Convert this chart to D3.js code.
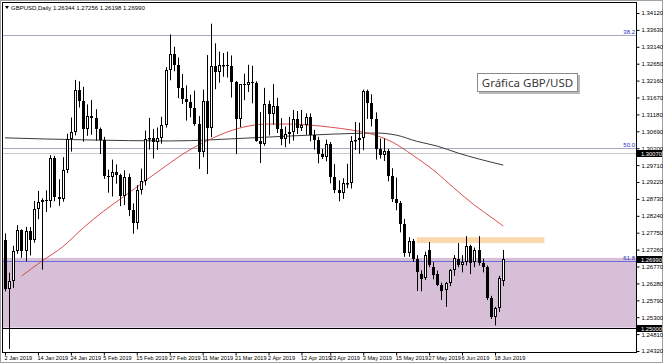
<!DOCTYPE html>
<html>
<head>
<meta charset="utf-8">
<script src="https://cdnjs.cloudflare.com/ajax/libs/d3/7.8.5/d3.min.js"></script>
<style>
  body { margin: 0; background: #fff; }
  svg { display: block; }
  text { font-family: "Liberation Sans", Arial, sans-serif; }
</style>
</head>
<body>
<svg width="663" height="363"></svg>
<script>
// Daily bars, GBPUSD, 2 Jan 2019 .. 20 Jun 2019 (one entry per bar)
var opens = [
  1.2754,1.2613,1.2634,1.2723,1.2784,1.2722,1.2780,1.2755,1.2843,1.2865,
  1.2870,1.2866,1.2993,1.2879,1.2872,1.2956,1.3047,1.3067,1.3190,1.3156,
  1.3075,1.3112,1.3107,1.3075,1.3044,1.2940,1.2936,1.2950,1.2941,1.2881,
  1.2937,1.2842,1.2802,1.2898,1.2925,1.3048,1.3051,1.3038,1.3049,1.3086,
  1.3247,1.3292,1.3261,1.3195,1.3162,1.3154,1.3138,1.3091,1.3008,1.3156,
  1.3078,1.3259,1.3240,1.3261,1.3262,1.3258,1.3212,1.3104,1.3205,1.3203,
  1.3211,1.3209,1.3041,1.3032,1.3147,1.3118,1.3143,1.3077,1.3047,1.3061,
  1.3068,1.3104,1.3078,1.3086,1.3111,1.3057,1.3044,1.3004,1.2995,1.3031,
  1.2937,1.2898,1.2891,1.2918,1.2920,1.3040,1.3045,1.3050,1.3185,1.3150,
  1.3104,1.3019,1.3000,1.3011,1.2940,1.2872,1.2860,1.2800,1.2716,1.2750,
  1.2700,1.2655,1.2645,1.2725,1.2676,1.2655,1.2623,1.2609,1.2629,1.2667,
  1.2700,1.2680,1.2690,1.2736,1.2690,1.2725,1.2687,1.2676,1.2586,1.2531,
  1.2557,1.2634
];
var highs = [
  1.2773,1.2659,1.2737,1.2797,1.2785,1.2792,1.2791,1.2867,1.2896,1.2875,
  1.2898,1.3000,1.2998,1.2930,1.2994,1.3062,1.3109,1.3218,1.3214,1.3198,
  1.3147,1.3160,1.3133,1.3080,1.3053,1.2958,1.2987,1.2973,1.2946,1.2956,
  1.2946,1.2860,1.2913,1.2961,1.3071,1.3108,1.3076,1.3080,1.3111,1.3255,
  1.3350,1.3314,1.3283,1.3235,1.3202,1.3175,1.3187,1.3113,1.3190,1.3290,
  1.3381,1.3324,1.3300,1.3296,1.3300,1.3289,1.3215,1.3206,1.3236,1.3262,
  1.3259,1.3214,1.3125,1.3195,1.3158,1.3206,1.3166,1.3107,1.3083,1.3111,
  1.3131,1.3128,1.3131,1.3121,1.3121,1.3073,1.3053,1.3018,1.3045,1.3038,
  1.2974,1.2927,1.2933,1.2975,1.3055,1.3096,1.3094,1.3190,1.3190,1.3176,
  1.3124,1.3048,1.3048,1.3018,1.2962,1.2935,1.2867,1.2815,1.2762,1.2757,
  1.2710,1.2666,1.2720,1.2748,1.2690,1.2665,1.2630,1.2632,1.2670,1.2710,
  1.2745,1.2710,1.2765,1.2740,1.2732,1.2765,1.2700,1.2680,1.2592,1.2560,
  1.2650,1.2725
];
var lows = [
  1.2605,1.2438,1.2615,1.2714,1.2702,1.2692,1.2709,1.2746,1.2814,1.2668,
  1.2835,1.2848,1.2866,1.2853,1.2865,1.2948,1.3010,1.3057,1.3138,1.3039,
  1.3056,1.3059,1.3042,1.3003,1.2931,1.2891,1.2880,1.2917,1.2852,1.2855,
  1.2823,1.2772,1.2785,1.2886,1.2912,1.3016,1.2990,1.3015,1.3033,1.3080,
  1.3217,1.3243,1.3165,1.3148,1.3100,1.3110,1.3085,1.2960,1.2994,1.2945,
  1.3052,1.3191,1.3210,1.3227,1.3225,1.3167,1.3003,1.3081,1.3159,1.3183,
  1.3150,1.3039,1.2977,1.3027,1.3057,1.3088,1.3064,1.3029,1.3023,1.3033,
  1.3042,1.3061,1.3070,1.3059,1.3040,1.3016,1.2976,1.2989,1.2982,1.2918,
  1.2890,1.2866,1.2873,1.2904,1.2903,1.3015,1.3004,1.3014,1.3105,1.3083,
  1.2987,1.2990,1.2983,1.2924,1.2864,1.2840,1.2776,1.2705,1.2705,1.2690,
  1.2606,1.2605,1.2638,1.2675,1.2640,1.2620,1.2580,1.2560,1.2620,1.2650,
  1.2675,1.2660,1.2680,1.2655,1.2675,1.2680,1.2660,1.2580,1.2525,1.2506,
  1.2545,1.2620
];
var closes = [
  1.2613,1.2634,1.2723,1.2784,1.2722,1.2780,1.2755,1.2843,1.2865,1.2870,
  1.2866,1.2993,1.2879,1.2872,1.2956,1.3047,1.3067,1.3190,1.3156,1.3075,
  1.3112,1.3107,1.3075,1.3044,1.2940,1.2936,1.2950,1.2941,1.2881,1.2937,
  1.2842,1.2802,1.2898,1.2925,1.3048,1.3051,1.3038,1.3049,1.3086,1.3247,
  1.3292,1.3261,1.3195,1.3162,1.3154,1.3138,1.3091,1.3008,1.3156,1.3078,
  1.3259,1.3240,1.3261,1.3262,1.3258,1.3212,1.3104,1.3205,1.3203,1.3211,
  1.3209,1.3041,1.3032,1.3147,1.3118,1.3143,1.3077,1.3047,1.3061,1.3068,
  1.3104,1.3078,1.3086,1.3111,1.3057,1.3044,1.3004,1.2995,1.3031,1.2937,
  1.2898,1.2891,1.2918,1.2920,1.3040,1.3045,1.3050,1.3185,1.3150,1.3104,
  1.3019,1.3000,1.3011,1.2940,1.2872,1.2860,1.2800,1.2716,1.2752,1.2700,
  1.2661,1.2640,1.2710,1.2681,1.2652,1.2623,1.2606,1.2629,1.2667,1.2702,
  1.2681,1.2690,1.2736,1.2687,1.2725,1.2687,1.2676,1.2586,1.2531,1.2557,
  1.2644,1.2699
];

// Date labels on the time axis (bar index where each sits)
var dateLabels = ["2 Jan 2019","14 Jan 2019","24 Jan 2019","5 Feb 2019","15 Feb 2019",
  "27 Feb 2019","11 Mar 2019","21 Mar 2019","2 Apr 2019","12 Apr 2019","23 Apr 2019",
  "3 May 2019","15 May 2019","27 May 2019","6 Jun 2019","18 Jun 2019"];
var dateLabelIdx = [0,8,16,24,32,40,48,56,64,72,79,87,95,103,111,119];

// Price scale labels on the right
var priceTicks = ["1.24320","1.24810","1.25300","1.25790","1.26280","1.26770","1.27260",
  "1.27750","1.28240","1.28730","1.29220","1.29710","1.30200","1.30690","1.31180",
  "1.31670","1.32160","1.32650","1.33140","1.33630","1.34120"];

// Moving averages (bar index, price)
var redMaIdx = [4,9,14,19,24,29,34,39,44,49,54,59,64,69,74,79,84,89,94,99,104,109,114,119,121];
var redMaVal = [1.2649,1.2693,1.2734,1.2789,1.2838,1.2881,1.2925,1.2968,1.3009,1.3041,
  1.3067,1.3084,1.3090,1.3090,1.3087,1.3081,1.3073,1.3061,1.3038,1.3000,1.2957,1.2905,
  1.2855,1.2812,1.2794];
var slowMaIdx = [0,20,40,60,80,90,95,100,105,110,115,121];
var slowMaVal = [1.3050,1.3044,1.3041,1.3050,1.3061,1.3064,1.3058,1.3040,1.3026,1.3006,1.2989,1.2971];

// Objects drawn on the chart
var fibNames = ["38.2","50.0","61.8"];
var fibLevels = [1.3348,1.3020,1.2692];
var zoneTop = 1.2702, zoneBottom = 1.2500;          // purple box
var resistTop = 1.2762, resistBottom = 1.2745;      // orange band
var resistFrom = 100, resistTo = 131;
var supportLine = 1.2500;
var greyLine = 1.3007;
var titleText = "GBPUSD,Daily  1.26344 1.27256 1.26198 1.26990";
var noteText = "Gráfica GBP/USD";

var svg = d3.select("svg"),
    width = +svg.attr("width"),
    height = +svg.attr("height");

// plot area edges (not called top/left: window.top is read only)
var pLeft = 3, pRight = 636, pTop = 3, pBottom = 352;

var x = d3.scaleLinear().domain([0, 119]).range([5, 495]);
var y = d3.scaleLinear()
    .domain([+priceTicks[0], +priceTicks[priceTicks.length - 1]])
    .range([351, 13]);

svg.append("rect").attr("width", width).attr("height", height).attr("fill", "#fff");

svg.append("clipPath").attr("id", "plot")
  .append("rect").attr("x", pLeft).attr("y", pTop)
  .attr("width", pRight - pLeft).attr("height", pBottom - pTop);

var plot = svg.append("g").attr("clip-path", "url(#plot)");

// Purple zone and orange band go behind the bars
plot.append("rect")
    .attr("x", pLeft).attr("width", pRight - pLeft)
    .attr("y", y(zoneTop)).attr("height", y(zoneBottom) - y(zoneTop))
    .attr("fill", "#d8bfd8");

plot.append("rect")
    .attr("x", x(resistFrom)).attr("width", x(resistTo) - x(resistFrom))
    .attr("y", y(resistTop)).attr("height", y(resistBottom) - y(resistTop))
    .attr("fill", "#fcd8ae");

// Horizontal lines
function hline(p, color) {
    var yy = Math.round(y(p)) + 0.5;
    plot.append("line")
        .attr("x1", pLeft).attr("x2", pRight)
        .attr("y1", yy).attr("y2", yy)
        .attr("stroke", color).attr("stroke-width", 1);
}
hline(greyLine, "#c8c8c8");
for (var i = 0; i < fibLevels.length; i++) {
    hline(fibLevels[i], i == 2 ? "#6a6ad8" : "#a4a8c8");
    plot.append("text")
        .attr("x", pRight - 1).attr("y", Math.round(y(fibLevels[i])) - 1)
        .attr("text-anchor", "end")
        .attr("font-size", 6)
        .attr("fill", "#2828c0")
        .text(fibNames[i]);
}
hline(supportLine, "#000");

// Moving averages
var maLine = d3.line()
    .x(function(d) { return x(d[0]); })
    .y(function(d) { return y(d[1]); })
    .curve(d3.curveMonotoneX);

plot.append("path")
    .datum(slowMaIdx.map(function(d, i) { return [d, slowMaVal[i]]; }))
    .attr("d", maLine)
    .attr("fill", "none").attr("stroke", "#3a3a3a").attr("stroke-width", 1);

plot.append("path")
    .datum(redMaIdx.map(function(d, i) { return [d, redMaVal[i]]; }))
    .attr("d", maLine)
    .attr("fill", "none").attr("stroke", "#d63a3a").attr("stroke-width", 0.9);

// Candles
var bars = d3.range(opens.length).map(function(i) {
    return { i: i, o: opens[i], h: highs[i], l: lows[i], c: closes[i] };
});

var candle = plot.append("g").selectAll("g")
    .data(bars)
    .enter().append("g");

candle.append("line")
    .attr("x1", function(d) { return Math.round(x(d.i)) + 0.5; })
    .attr("x2", function(d) { return Math.round(x(d.i)) + 0.5; })
    .attr("y1", function(d) { return y(d.h); })
    .attr("y2", function(d) { return y(d.l); })
    .attr("stroke", "#000").attr("stroke-width", 1);

candle.append("rect")
    .attr("x", function(d) { return d.c >= d.o ? Math.round(x(d.i)) - 0.5 : Math.round(x(d.i)) - 1; })
    .attr("width", function(d) { return d.c >= d.o ? 2 : 3; })
    .attr("y", function(d) {
        var t = Math.round(y(Math.max(d.o, d.c)));
        return d.c >= d.o ? t + 0.5 : t;
    })
    .attr("height", function(d) {
        var h = Math.round(y(Math.min(d.o, d.c))) - Math.round(y(Math.max(d.o, d.c)));
        return d.c >= d.o ? Math.max(h - 1, 0.5) : Math.max(h, 1);
    })
    .attr("fill", function(d) { return d.c >= d.o ? "#fff" : "#000"; })
    .attr("stroke", function(d) { return d.c >= d.o ? "#000" : "none"; })
    .attr("stroke-width", 1);

// Frames
svg.append("rect")
    .attr("x", 0.5).attr("y", 0.5).attr("width", width - 1).attr("height", height - 1)
    .attr("fill", "none").attr("stroke", "#a0a0a0");
svg.append("rect")
    .attr("x", pLeft - 0.5).attr("y", pTop - 0.5)
    .attr("width", pRight - pLeft + 1).attr("height", pBottom - pTop + 1)
    .attr("fill", "none").attr("stroke", "#000");

// Price axis on the right
var yAxis = d3.axisRight(y)
    .tickValues(priceTicks.map(Number))
    .tickFormat(function(d, i) { return priceTicks[i]; })
    .tickSize(3).tickPadding(2);

var ya = svg.append("g")
    .attr("transform", "translate(" + (pRight + 0.5) + ",0)")
    .call(yAxis);
ya.select(".domain").remove();
ya.selectAll("text").attr("font-size", 6).attr("fill", "#000")
    .style("font-family", "'Liberation Sans', Arial, sans-serif");

// Black price boxes
function priceBox(p, label) {
    var yy = Math.round(y(p));
    var g = svg.append("g");
    g.append("rect").attr("x", pRight + 1).attr("y", yy - 3)
        .attr("width", width - pRight - 2).attr("height", 7).attr("fill", "#000");
    g.append("text").attr("x", pRight + 5).attr("y", yy + 2.6)
        .attr("font-size", 5.8).attr("fill", "#fff").text(label);
}
priceBox(greyLine, greyLine.toFixed(5));
priceBox(closes[closes.length - 1], closes[closes.length - 1].toFixed(5));
priceBox(supportLine, supportLine.toFixed(5));

// Time axis
var xAxis = d3.axisBottom(x)
    .tickValues(dateLabelIdx)
    .tickFormat(function(d, i) { return dateLabels[i]; })
    .tickSize(3).tickPadding(1);

var xa = svg.append("g")
    .attr("transform", "translate(0," + (pBottom + 0.5) + ")")
    .call(xAxis);
xa.select(".domain").remove();
xa.selectAll("text")
    .attr("font-size", 5.6).attr("fill", "#000")
    .attr("text-anchor", "start").attr("dx", -1)
    .style("font-family", "'Liberation Sans', Arial, sans-serif");

// Title line at the top left
svg.append("path")
    .attr("d", "M5,6 L9,6 L7,9 Z").attr("fill", "#000");
svg.append("text")
    .attr("x", 11).attr("y", 9.5)
    .attr("font-size", 6).attr("fill", "#000")
    .text(titleText);

// Note box
var note = svg.append("g").attr("transform", "translate(477,73)");
note.append("rect").attr("x", 2).attr("y", 2).attr("width", 101).attr("height", 19)
    .attr("fill", "#b8b8b8");
note.append("rect").attr("x", 0.5).attr("y", 0.5).attr("width", 100).attr("height", 18)
    .attr("fill", "#fff").attr("stroke", "#8a8a8a");
note.append("text").attr("x", 50.5).attr("y", 13.5)
    .attr("text-anchor", "middle")
    .attr("font-size", 11.5).attr("fill", "#3a3a3a")
    .style("font-family", "'Noto Sans', 'Open Sans', sans-serif")
    .text(noteText);
</script>
</body>
</html>
